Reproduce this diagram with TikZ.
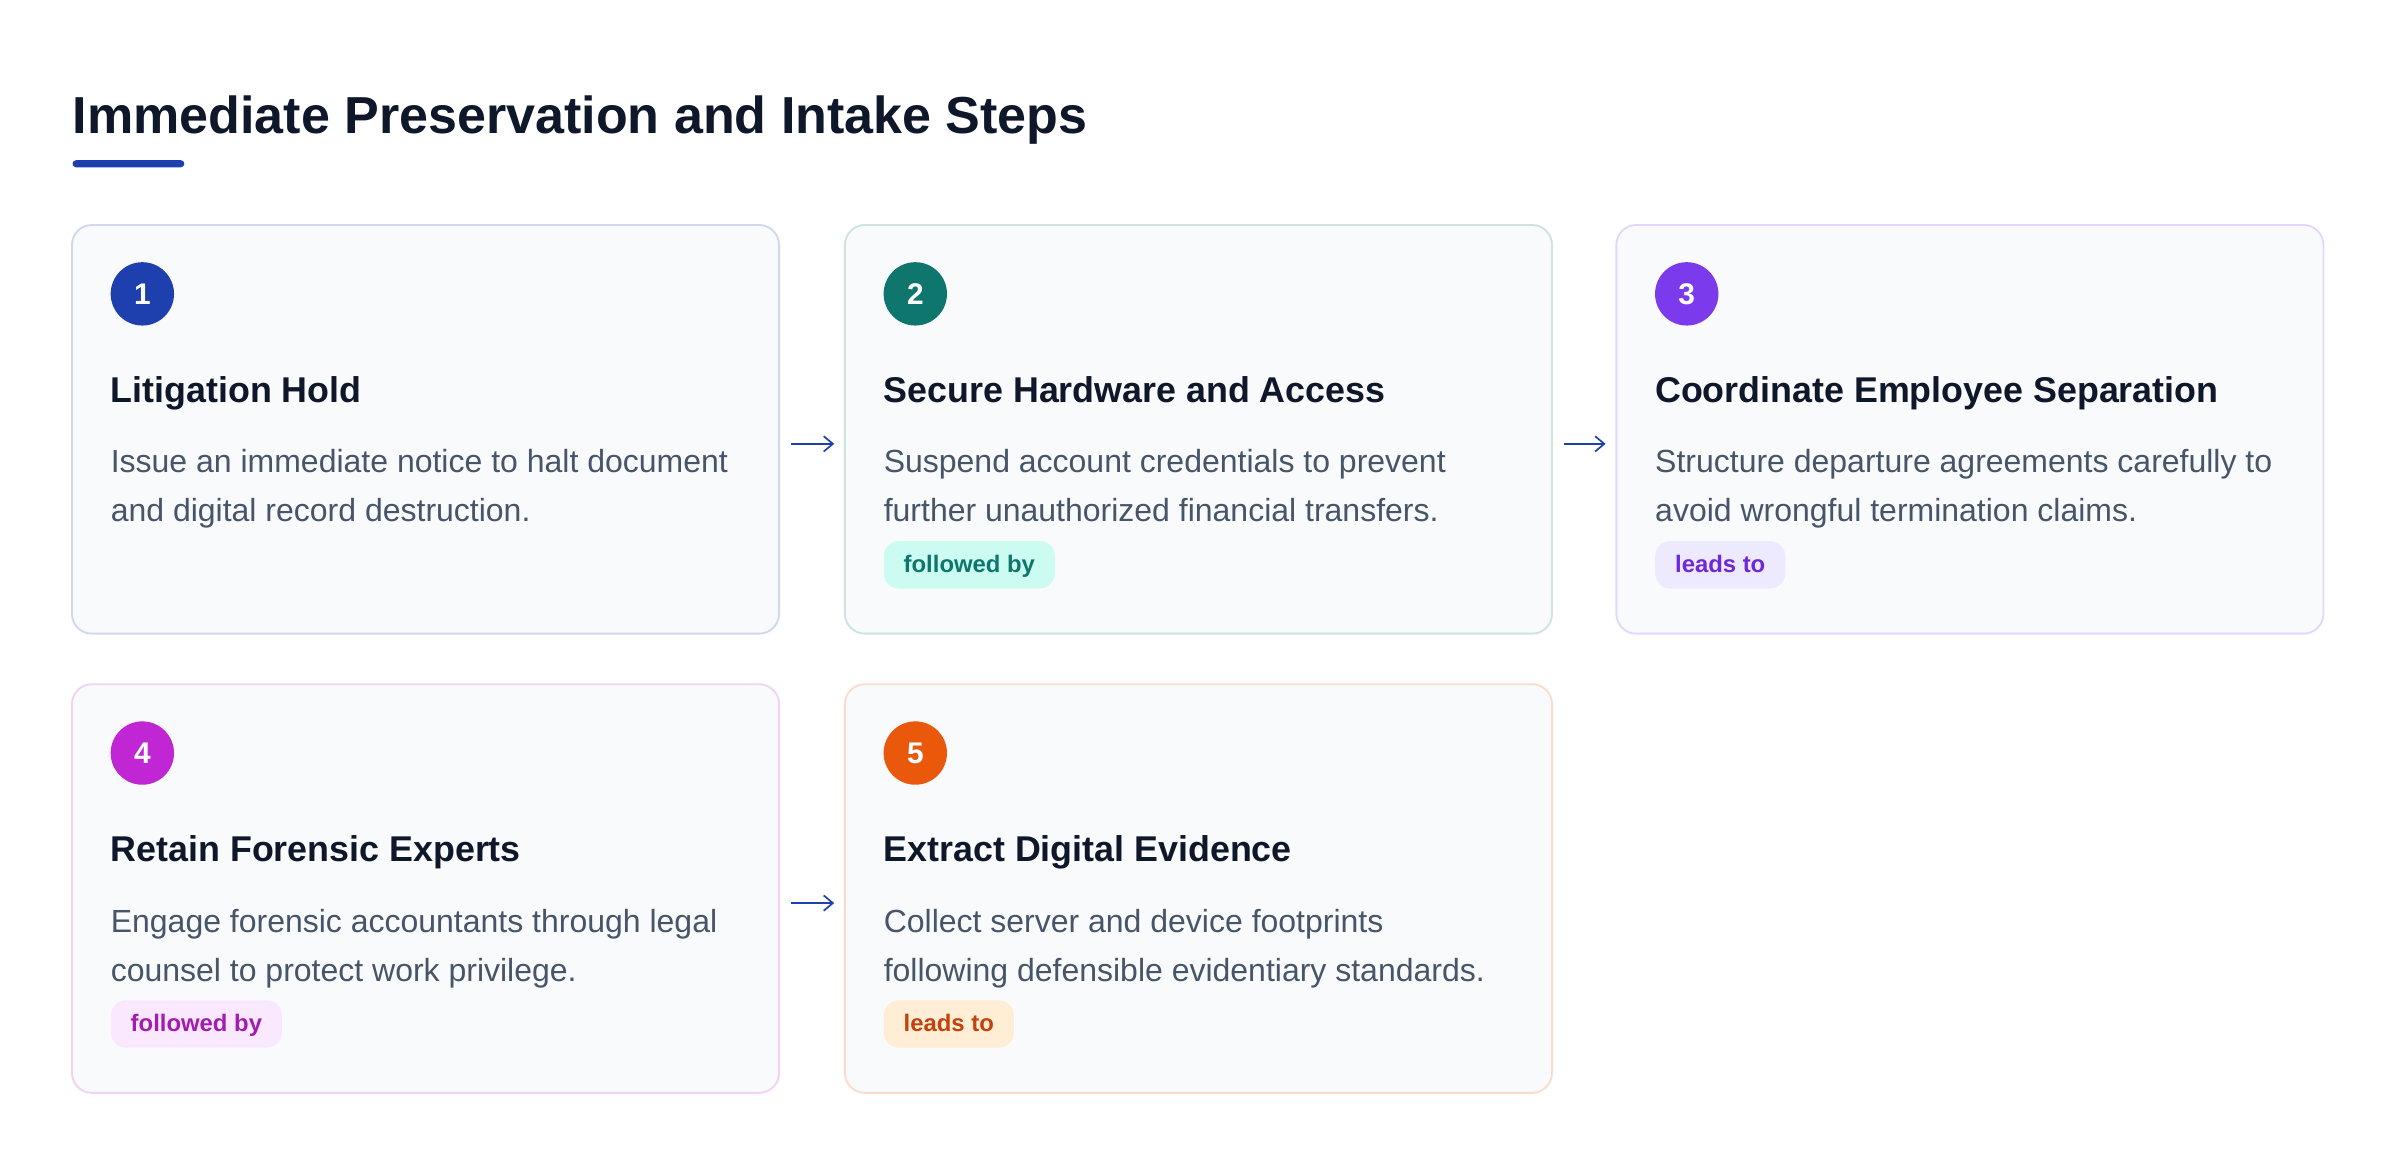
\documentclass[tikz,border=0pt]{standalone}
\usepackage{fontspec}
\setmainfont{Liberation Sans}
\usetikzlibrary{arrows.meta}
\definecolor{ink}{HTML}{0F172A}
\definecolor{bodyc}{HTML}{475569}
\definecolor{cardbg}{HTML}{F8FAFC}
\definecolor{cA}{HTML}{1E40AF}
\definecolor{cB}{HTML}{0F766E}
\definecolor{cC}{HTML}{7C3AED}
\definecolor{cD}{HTML}{C026D3}
\definecolor{cE}{HTML}{EA580C}
\definecolor{bB}{HTML}{CCFBF1}
\definecolor{tB}{HTML}{0F766E}
\definecolor{bC}{HTML}{EDE9FE}
\definecolor{tC}{HTML}{6D28D9}
\definecolor{bD}{HTML}{FAE8FF}
\definecolor{tD}{HTML}{A21CAF}
\definecolor{bE}{HTML}{FFEDD5}
\definecolor{tE}{HTML}{C2410C}
\tikzset{
  card/.style={rectangle, rounded corners=6.5pt, fill=cardbg, line width=0.6pt,
    minimum width=231pt, minimum height=133.5pt, inner sep=0pt, outer sep=0pt, anchor=north west},
  numdot/.style={circle, minimum size=20.7pt, inner sep=0pt, text=white,
    font=\bfseries\fontsize{9.75pt}{11pt}\selectfont},
  headtxt/.style={anchor=base west, inner sep=0pt, text=ink,
    font=\bfseries\fontsize{11.7pt}{14pt}\selectfont},
  bodytxt/.style={anchor=base west, inner sep=0pt, text=bodyc,
    font=\fontsize{10.45pt}{16pt}\selectfont},
  badge/.style={anchor=west, rounded corners=5pt, inner xsep=6.5pt, inner ysep=0pt,
    text height=6.2pt, text depth=1.2pt,
    minimum height=15.5pt, font=\bfseries\fontsize{7.8pt}{9pt}\selectfont},
  flow/.style={draw=cA, line width=0.55pt, -{Straight Barb[length=3pt,width=5pt]},
    shorten <=4pt, shorten >=3.5pt},
}
\newcommand\stepcard[8]{%
  \node[card, draw=#4!21!white] (#1) at (#2,#3) {};
  \node[numdot, fill=#4] (#1n) at ([shift={(46,45)}]#1.north west) {#5};
  \node[headtxt] (#1h) at ([shift={(25,116)}]#1.north west) {#6};
  \node[bodytxt] (#1b) at ([shift={(25,162)}]#1.north west) {\vtop{\hbox{#7}\hbox{#8}}};
}
\begin{document}
\begin{tikzpicture}[x=0.5pt, y=-0.5pt]
  \useasboundingbox[fill=white] (0,0) rectangle (1568,763);
  \node[anchor=base west, inner sep=0pt, text=ink,
    font=\bfseries\fontsize{17pt}{20pt}\selectfont] (title) at (47,87)
    {Immediate Preservation and Intake Steps};
  \node[fill=cA, rounded corners=1.1pt, minimum width=36.5pt, minimum height=2.3pt,
    inner sep=0pt, anchor=west] (rule) at (47,107) {};

  \stepcard{c1}{47}{147}{cA}{1}{Litigation Hold}{Issue an immediate notice to halt document}{and digital record destruction.}
  \stepcard{c2}{552}{147}{cB}{2}{Secure Hardware and Access}{Suspend account credentials to prevent}{further unauthorized financial transfers.}
  \stepcard{c3}{1056}{147}{cC}{3}{Coordinate Employee Separation}{Structure departure agreements carefully to}{avoid wrongful termination claims.}
  \stepcard{c4}{47}{447}{cD}{4}{Retain Forensic Experts}{Engage forensic accountants through legal}{counsel to protect work privilege.}
  \stepcard{c5}{552}{447}{cE}{5}{Extract Digital Evidence}{Collect server and device footprints}{following defensible evidentiary standards.}

  \node[badge, fill=bB, text=tB] (c2t) at ([shift={(25,222)}]c2.north west) {followed by};
  \node[badge, fill=bC, text=tC] (c3t) at ([shift={(25,222)}]c3.north west) {leads to};
  \node[badge, fill=bD, text=tD] (c4t) at ([shift={(25,222)}]c4.north west) {followed by};
  \node[badge, fill=bE, text=tE] (c5t) at ([shift={(25,222)}]c5.north west) {leads to};

  \draw[flow] ([yshift=-4.75pt]c1.east) -- ([yshift=-4.75pt]c2.west);
  \draw[flow] ([yshift=-4.75pt]c2.east) -- ([yshift=-4.75pt]c3.west);
  \draw[flow] ([yshift=-4.75pt]c4.east) -- ([yshift=-4.75pt]c5.west);
\end{tikzpicture}
\end{document}
